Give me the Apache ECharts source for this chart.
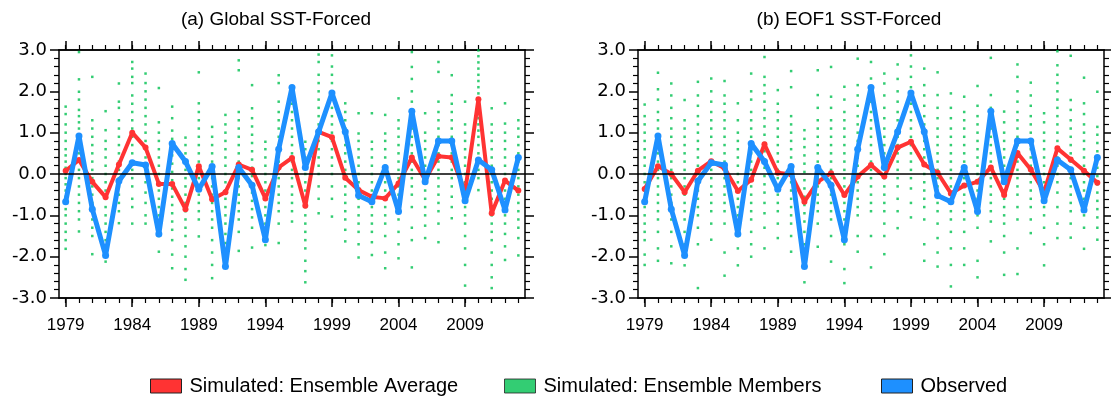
<!DOCTYPE html>
<html>
<head>
<meta charset="utf-8">
<script src="https://cdn.jsdelivr.net/npm/echarts@6/dist/echarts.min.js"></script>
<style>html,body{margin:0;padding:0;background:#fff}#c{width:1111px;height:406px}</style>
</head>
<body>
<div id="c"></div>
<script>
const years = ['1979','1980','1981','1982','1983','1984','1985','1986','1987','1988','1989','1990','1991','1992','1993','1994','1995','1996','1997','1998','1999','2000','2001','2002','2003','2004','2005','2006','2007','2008','2009','2010','2011','2012','2013'];
const panelTitles = ['(a) Global SST-Forced', '(b) EOF1 SST-Forced'];
const seriesNames = ['Simulated: Ensemble Average', 'Simulated: Ensemble Members', 'Observed'];

const observed = [-0.67, 0.92, -0.85, -1.97, -0.17, 0.27, 0.22, -1.45, 0.74, 0.30, -0.37, 0.18, -2.24, 0.16, -0.27, -1.59, 0.60, 2.09, 0.16, 1.02, 1.96, 1.02, -0.52, -0.67, 0.16, -0.91, 1.52, -0.19, 0.80, 0.80, -0.65, 0.34, 0.10, -0.87, 0.40];

const avgGlobal = [0.08, 0.34, -0.19, -0.56, 0.23, 1.00, 0.64, -0.24, -0.24, -0.85, 0.19, -0.61, -0.44, 0.23, 0.10, -0.59, 0.16, 0.39, -0.77, 1.02, 0.89, -0.09, -0.39, -0.55, -0.59, -0.23, 0.40, -0.14, 0.43, 0.40, -0.43, 1.81, -0.95, -0.16, -0.40];

const avgEOF1 = [-0.36, 0.19, 0.00, -0.44, 0.08, 0.31, 0.14, -0.41, -0.14, 0.72, 0.03, -0.01, -0.67, -0.19, 0.02, -0.51, -0.06, 0.22, -0.06, 0.64, 0.78, 0.23, 0.03, -0.47, -0.28, -0.19, 0.16, -0.51, 0.51, 0.11, -0.44, 0.62, 0.35, 0.08, -0.21];

const membersGlobal = [
 [1.63,1.45,1.2,1.0,0.8,0.6,0.45,0.3,0.15,0.0,-0.1,-0.25,-0.4,-0.55,-0.7,-0.85,-1.0,-1.2,-1.4,-1.6,-1.81],
 [2.95,2.29,1.99,1.8,1.55,1.4,1.25,1.1,0.9,0.7,0.5,0.3,0.1,-0.1,-0.3,-0.5,-0.7,-0.9,-1.1,-1.39],
 [2.35,1.3,1.1,0.9,0.7,0.5,0.3,0.1,-0.1,-0.3,-0.5,-0.7,-0.9,-1.1,-1.3,-1.5,-1.94],
 [1.52,1.06,0.8,0.6,0.4,0.2,0.0,-0.2,-0.4,-0.6,-0.8,-1.0,-1.2,-1.4,-1.6,-1.8,-2.12],
 [2.19,1.75,1.6,1.3,1.1,0.9,0.7,0.5,0.3,0.1,-0.1,-0.3,-0.5,-0.7,-0.9,-1.19],
 [2.71,2.55,2.35,2.2,1.9,1.7,1.5,1.3,1.1,0.9,0.7,0.5,0.3,0.1,-0.1,-0.3,-0.6,-0.8,-1.2],
 [2.43,2.2,2.0,1.8,1.6,1.4,1.2,1.0,0.8,0.6,0.4,0.2,0.0,-0.2,-0.45,-0.7,-1.0,-1.2],
 [2.08,1.25,1.0,0.8,0.6,0.4,0.2,0.0,-0.2,-0.4,-0.6,-0.8,-1.0,-1.2,-1.5,-1.88],
 [1.63,1.35,1.05,0.85,0.65,0.45,0.25,0.05,-0.15,-0.35,-0.55,-0.75,-0.95,-1.15,-1.35,-1.6,-1.95,-2.28],
 [0.88,0.7,0.5,0.3,0.1,-0.1,-0.3,-0.5,-0.7,-0.9,-1.1,-1.3,-1.5,-1.75,-2.0,-2.3,-2.56],
 [2.46,1.71,1.5,1.3,1.1,0.9,0.7,0.5,0.3,0.1,-0.1,-0.3,-0.5,-0.7,-0.9,-1.1,-1.51],
 [1.14,0.9,0.7,0.5,0.3,0.1,-0.1,-0.3,-0.5,-0.7,-0.9,-1.1,-1.3,-1.6,-1.9,-2.2,-2.52],
 [1.43,1.2,1.0,0.8,0.6,0.4,0.2,0.0,-0.2,-0.4,-0.6,-0.8,-1.0,-1.2,-1.45,-1.67],
 [2.75,2.51,1.5,1.3,1.1,0.9,0.7,0.5,0.3,0.1,-0.1,-0.3,-0.5,-0.7,-0.9,-1.1,-1.4,-1.86],
 [2.15,1.59,1.35,1.15,0.95,0.75,0.55,0.35,0.15,-0.05,-0.25,-0.45,-0.65,-0.85,-1.05,-1.3,-1.78],
 [0.78,0.6,0.4,0.2,0.0,-0.2,-0.4,-0.6,-0.8,-1.0,-1.2,-1.5,-1.72],
 [2.39,2.2,1.75,1.5,1.3,1.1,0.9,0.7,0.5,0.3,0.1,-0.1,-0.3,-0.5,-0.7,-0.9,-1.2,-1.67],
 [1.91,1.7,1.5,1.3,1.1,0.9,0.7,0.5,0.3,0.1,-0.1,-0.3,-0.5,-0.7,-0.9,-1.15],
 [0.78,0.6,0.4,0.2,0.0,-0.2,-0.4,-0.6,-0.8,-1.0,-1.2,-1.4,-1.6,-1.8,-2.1,-2.35,-2.62],
 [2.89,2.71,2.4,2.2,2.0,1.8,1.6,1.4,1.2,1.0,0.8,0.6,0.4,0.2,0.0,-0.3,-0.6,-0.95],
 [2.87,2.6,2.4,2.2,2.0,1.8,1.6,1.4,1.2,1.0,0.8,0.6,0.4,0.2,0.0,-0.3,-0.6,-1.03],
 [1.71,1.5,1.3,1.1,0.9,0.7,0.5,0.3,0.1,-0.1,-0.3,-0.5,-0.7,-0.9,-1.1,-1.35,-1.63],
 [1.47,0.98,0.8,0.6,0.4,0.2,0.0,-0.2,-0.4,-0.6,-0.8,-1.0,-1.2,-1.4,-1.7,-2.02],
 [1.47,0.78,0.6,0.4,0.2,0.0,-0.2,-0.4,-0.6,-0.8,-1.0,-1.2,-1.4,-1.65,-1.96],
 [1.43,0.98,0.8,0.6,0.4,0.2,0.0,-0.2,-0.4,-0.6,-0.8,-1.0,-1.2,-1.5,-1.9,-2.28],
 [1.83,1.3,1.1,0.9,0.7,0.5,0.3,0.1,-0.1,-0.3,-0.5,-0.7,-0.9,-1.1,-1.4,-1.7,-2.04],
 [2.95,2.59,2.3,2.0,1.75,1.5,1.3,1.1,0.9,0.7,0.5,0.3,0.1,-0.1,-0.3,-0.5,-0.8,-1.3,-1.6,-2.26],
 [1.47,1.0,0.8,0.6,0.4,0.2,0.0,-0.2,-0.4,-0.6,-0.8,-1.0,-1.25,-1.55],
 [2.71,2.47,1.75,1.5,1.3,1.1,0.9,0.7,0.5,0.3,0.1,-0.1,-0.3,-0.5,-0.7,-0.9,-1.2,-1.65],
 [2.39,1.91,1.7,1.5,1.3,1.1,0.9,0.7,0.5,0.3,0.1,-0.1,-0.3,-0.55,-0.8,-1.07],
 [1.75,1.2,1.0,0.8,0.6,0.4,0.2,0.0,-0.2,-0.4,-0.6,-0.8,-1.0,-1.2,-1.5,-1.8,-2.2,-2.7],
 [2.99,2.85,2.7,2.55,2.4,2.25,2.1,1.95,1.8,1.65,1.5,1.35,1.2,1.05,0.9,0.7,0.5,0.3,0.1,-0.1,-0.39],
 [1.59,1.2,1.0,0.8,0.6,0.4,0.2,0.0,-0.2,-0.4,-0.6,-0.8,-1.0,-1.2,-1.4,-1.6,-1.9,-2.2,-2.5,-2.76],
 [1.71,1.22,1.0,0.8,0.6,0.4,0.2,0.0,-0.2,-0.4,-0.6,-0.8,-1.0,-1.2,-1.45,-1.75,-2.08],
 [1.3,1.1,0.9,0.7,0.5,0.3,0.1,-0.1,-0.3,-0.5,-0.7,-0.9,-1.1,-1.3,-1.55,-1.97]
];

const membersEOF1 = [
 [1.68,1.4,1.2,1.0,0.8,0.6,0.4,0.2,0.0,-0.2,-0.4,-0.6,-0.8,-1.0,-1.2,-1.4,-1.6,-1.95,-2.2],
 [2.45,2.05,1.8,1.5,1.3,1.1,0.9,0.7,0.5,0.3,0.1,-0.1,-0.3,-0.5,-0.7,-0.9,-1.1,-1.4,-1.8,-2.1],
 [2.19,1.9,1.6,1.35,1.1,0.9,0.7,0.5,0.3,0.1,-0.1,-0.3,-0.5,-0.7,-0.9,-1.1,-1.4,-1.75,-2.16],
 [1.79,1.3,1.1,0.9,0.7,0.5,0.3,0.1,-0.1,-0.3,-0.5,-0.7,-0.9,-1.1,-1.4,-1.7,-2.0,-2.21],
 [2.23,1.9,1.65,1.4,1.2,1.0,0.8,0.6,0.4,0.2,0.0,-0.2,-0.4,-0.6,-0.8,-1.0,-1.3,-1.7,-2.76],
 [2.31,2.0,1.75,1.5,1.3,1.1,0.9,0.7,0.5,0.3,0.1,-0.1,-0.3,-0.5,-0.7,-0.9,-1.2,-1.59],
 [2.25,1.9,1.7,1.5,1.3,1.1,0.9,0.7,0.5,0.3,0.1,-0.1,-0.3,-0.5,-0.7,-0.9,-1.2,-1.9,-2.46],
 [1.71,1.3,1.0,0.8,0.6,0.4,0.2,0.0,-0.2,-0.4,-0.6,-0.8,-1.0,-1.2,-1.5,-1.8,-2.21],
 [2.43,2.0,1.8,1.5,1.3,1.1,0.9,0.7,0.5,0.3,0.1,-0.1,-0.3,-0.5,-0.7,-0.9,-1.1,-1.4,-1.7,-2.0],
 [2.83,2.35,2.15,1.95,1.75,1.55,1.35,1.15,0.95,0.75,0.55,0.35,0.15,-0.05,-0.25,-0.45,-0.7,-0.95,-1.3,-1.8],
 [2.03,1.7,1.5,1.3,1.1,0.9,0.7,0.5,0.3,0.1,-0.1,-0.3,-0.5,-0.7,-0.9,-1.2,-1.55],
 [2.49,2.1,1.4,1.2,1.0,0.8,0.6,0.4,0.2,0.0,-0.2,-0.4,-0.6,-0.8,-1.0,-1.2,-1.5,-1.88],
 [1.06,0.85,0.65,0.45,0.25,0.05,-0.15,-0.35,-0.55,-0.75,-0.95,-1.15,-1.4,-1.7,-2.1,-2.62],
 [2.51,1.91,1.6,1.3,1.1,0.9,0.7,0.5,0.3,0.1,-0.1,-0.3,-0.5,-0.7,-0.9,-1.2,-1.76],
 [2.59,1.87,1.6,1.3,1.1,0.9,0.7,0.5,0.3,0.1,-0.1,-0.3,-0.5,-0.7,-0.9,-1.1,-1.5,-2.12],
 [2.11,1.8,1.5,1.3,1.1,0.9,0.7,0.5,0.3,0.1,-0.1,-0.3,-0.5,-0.7,-0.9,-1.1,-1.4,-1.7,-2.3,-2.64],
 [2.79,2.15,1.9,1.65,1.4,1.2,1.0,0.8,0.6,0.4,0.2,0.0,-0.2,-0.4,-0.6,-0.8,-1.0,-1.5,-1.88],
 [2.71,2.31,2.0,1.75,1.5,1.3,1.1,0.9,0.7,0.5,0.3,0.1,-0.1,-0.3,-0.5,-0.7,-0.9,-1.5,-2.26],
 [2.43,2.19,1.9,1.6,1.35,1.1,0.9,0.7,0.5,0.3,0.1,-0.1,-0.3,-0.5,-0.7,-0.9,-1.2,-1.5,-1.94],
 [2.65,2.3,2.0,1.75,1.5,1.3,1.1,0.9,0.7,0.5,0.3,0.1,-0.1,-0.3,-0.6,-0.9,-1.31],
 [2.87,2.6,2.35,2.1,1.9,1.7,1.5,1.3,1.1,0.9,0.7,0.5,0.3,0.1,-0.1,-0.35,-0.7,-1.05],
 [2.55,2.15,1.9,1.65,1.4,1.2,1.0,0.8,0.6,0.4,0.2,0.0,-0.2,-0.4,-0.6,-0.8,-1.1,-1.7,-2.1],
 [2.46,1.91,1.6,1.35,1.1,0.9,0.7,0.5,0.3,0.1,-0.1,-0.3,-0.5,-0.7,-0.9,-1.2,-1.55,-1.9,-2.24],
 [1.95,1.6,1.35,1.1,0.9,0.7,0.5,0.3,0.1,-0.1,-0.3,-0.5,-0.7,-0.9,-1.1,-1.4,-1.8,-2.2,-2.72],
 [1.87,1.5,1.3,1.1,0.9,0.7,0.5,0.3,0.1,-0.1,-0.3,-0.5,-0.7,-0.9,-1.1,-1.4,-1.8,-2.2],
 [2.13,1.65,1.4,1.2,1.0,0.8,0.6,0.4,0.2,0.0,-0.2,-0.4,-0.6,-0.8,-1.0,-1.3,-2.1,-2.5],
 [2.81,1.91,1.6,1.35,1.1,0.9,0.7,0.5,0.3,0.1,-0.1,-0.3,-0.5,-0.7,-0.9,-1.15,-1.63],
 [1.51,1.25,1.0,0.8,0.6,0.4,0.2,0.0,-0.2,-0.4,-0.6,-0.8,-1.0,-1.2,-1.5,-1.9,-2.44],
 [2.65,2.35,2.0,1.75,1.5,1.3,1.1,0.9,0.7,0.5,0.3,0.1,-0.1,-0.3,-0.5,-0.8,-1.1,-1.8,-2.42],
 [2.21,1.9,1.65,1.4,1.2,1.0,0.8,0.6,0.4,0.2,0.0,-0.2,-0.4,-0.6,-0.8,-1.1,-1.43],
 [1.47,1.25,1.0,0.8,0.6,0.4,0.2,0.0,-0.2,-0.4,-0.6,-0.8,-1.0,-1.3,-1.7,-2.21],
 [2.97,2.63,2.4,2.2,2.0,1.8,1.6,1.4,1.2,1.0,0.8,0.6,0.4,0.2,0.0,-0.2,-0.45,-0.8,-1.2,-1.55],
 [2.86,1.79,1.55,1.3,1.1,0.9,0.7,0.5,0.3,0.1,-0.1,-0.3,-0.5,-0.7,-0.9,-1.2,-1.54],
 [2.33,1.71,1.45,1.2,1.0,0.8,0.6,0.4,0.2,0.0,-0.2,-0.4,-0.6,-0.8,-1.0,-1.3,-1.81],
 [1.99,1.14,0.95,0.75,0.55,0.35,0.15,-0.05,-0.25,-0.45,-0.65,-0.85,-1.05,-1.3,-1.59]
];

const FONT = 'Liberation Sans';
const YFONT = 'DejaVu Sans';
const RED = '#ff3333', GREEN = '#00c050', BLUE = '#1e90ff';

const grids = [
  {left: 59, top: 50, width: 466, height: 248},
  {left: 638, top: 50, width: 466, height: 248}
];

const xAxes = [], yAxes = [], series = [];
function addPanel(g, avg, members) {
  const base = xAxes.length;
  const common = {type: 'category', data: years, gridIndex: g, boundaryGap: true,
    axisLine: {show: true, onZero: false, lineStyle: {color: '#000', width: 1.5}},
    splitLine: {show: false}};
  xAxes.push(Object.assign({}, common, {position: 'bottom',
    axisTick: {show: true, interval: 0, alignWithLabel: true, length: 5, lineStyle: {color: '#000', width: 1.2}},
    axisLabel: {show: false}}));
  xAxes.push(Object.assign({}, common, {position: 'bottom',
    axisTick: {show: true, interval: 4, alignWithLabel: true, length: 9, lineStyle: {color: '#000', width: 1.5}},
    axisLabel: {show: true, interval: 4, color: '#000', fontSize: 17, fontFamily: FONT, margin: 19}}));
  xAxes.push(Object.assign({}, common, {position: 'top',
    axisTick: {show: true, interval: 0, alignWithLabel: true, length: 5, lineStyle: {color: '#000', width: 1.2}},
    axisLabel: {show: false}}));
  xAxes.push(Object.assign({}, common, {position: 'top',
    axisTick: {show: true, interval: 4, alignWithLabel: true, length: 9, lineStyle: {color: '#000', width: 1.5}},
    axisLabel: {show: false}}));
  const yb = yAxes.length;
  const ycommon = {type: 'value', gridIndex: g, min: -3, max: 3, interval: 1,
    axisLine: {show: true, onZero: false, lineStyle: {color: '#000', width: 1.5}},
    axisTick: {show: true, length: 9, lineStyle: {color: '#000', width: 1.5}},
    minorTick: {show: true, splitNumber: 5, length: 5, lineStyle: {color: '#000', width: 1.2}},
    splitLine: {show: false}, minorSplitLine: {show: false}};
  yAxes.push(Object.assign({}, ycommon, {position: 'left',
    axisLabel: {show: true, color: '#000', fontSize: 18, fontFamily: YFONT, margin: 12,
      formatter: v => v.toFixed(1)}}));
  yAxes.push(Object.assign({}, ycommon, {position: 'right', axisLabel: {show: false}}));

  const pts = [];
  members.forEach((arr, i) => arr.forEach(v => pts.push([i, v])));
  series.push({name: seriesNames[1], type: 'scatter', xAxisIndex: base + 1, yAxisIndex: yb,
    data: pts, symbol: 'rect', symbolSize: 2.5, itemStyle: {color: GREEN}, z: 1, silent: true,
    markLine: {silent: true, symbol: 'none', label: {show: false},
      lineStyle: {color: '#000', width: 1.5, type: 'solid'}, data: [{yAxis: 0}]}});
  series.push({name: seriesNames[0], type: 'line', xAxisIndex: base + 1, yAxisIndex: yb,
    data: avg, symbol: 'circle', symbolSize: 6, showSymbol: true,
    lineStyle: {color: RED, width: 4}, itemStyle: {color: RED}, z: 3, silent: true});
  series.push({name: seriesNames[2], type: 'line', xAxisIndex: base + 1, yAxisIndex: yb,
    data: observed, symbol: 'circle', symbolSize: 7, showSymbol: true,
    lineStyle: {color: BLUE, width: 5}, itemStyle: {color: BLUE}, z: 4, silent: true});
}
addPanel(0, avgGlobal, membersGlobal);
addPanel(1, avgEOF1, membersEOF1);

function legendAt(left, name, color) {
  return {left: left, top: 371, data: [{name: name, itemStyle: {color: color, borderColor: '#222', borderWidth: 1}}],
    icon: 'rect', itemWidth: 31, itemHeight: 14, selectedMode: false,
    textStyle: {color: '#000', fontSize: 20, fontFamily: FONT, padding: [0, 0, 0, 3]}};
}

const option = {
  backgroundColor: '#fff',
  animation: false,
  title: [
    {text: panelTitles[0], left: 271, top: 5, textAlign: 'center', textStyle: {fontSize: 19, fontWeight: 'normal', color: '#000', fontFamily: FONT}},
    {text: panelTitles[1], left: 844, top: 5, textAlign: 'center', textStyle: {fontSize: 19, fontWeight: 'normal', color: '#000', fontFamily: FONT}}
  ],
  legend: [legendAt(145, seriesNames[0], RED), legendAt(499, seriesNames[1], GREEN), legendAt(876, seriesNames[2], BLUE)],
  grid: grids,
  xAxis: xAxes,
  yAxis: yAxes,
  series: series
};
const chart = echarts.init(document.getElementById('c'), null, {renderer: 'canvas'});
chart.setOption(option);
</script>
</body>
</html>
